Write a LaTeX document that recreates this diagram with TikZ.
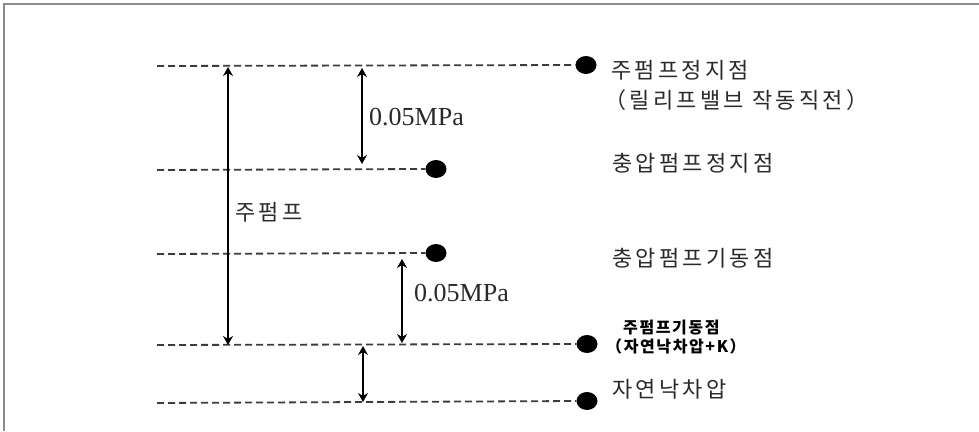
\documentclass[tikz,border=0pt]{standalone}
\usepackage{fontspec}
\setmainfont{Liberation Serif}
\newfontfamily\kr[LetterSpace=15]{Noto Sans CJK KR}
\newfontfamily\krs[LetterSpace=10]{Noto Sans CJK KR}
\usetikzlibrary{arrows.meta,shapes.geometric}
\definecolor{txt}{HTML}{2A2A2A}
\definecolor{dash}{HTML}{3C3C3C}
\definecolor{frame}{HTML}{8C8C8C}
\tikzset{
  lvl/.style={draw=dash, line width=1.8pt, dash pattern=on 7pt off 4pt},
  dotmark/.style={ellipse, fill=black, minimum width=21pt, minimum height=18pt, inner sep=0pt},
  dim/.style={draw=black, line width=1.4pt, {Stealth[length=9pt,width=10pt,inset=3pt]}-{Stealth[length=9pt,width=10pt,inset=3pt]}},
  lab/.style={anchor=west, inner sep=0pt, text=txt, font=\kr\fontsize{22}{26}\selectfont},
  smalllab/.style={anchor=west, inner sep=0pt, text=black, font=\krs\bfseries\fontsize{16}{18}\selectfont},
  mpa/.style={anchor=west, inner sep=0pt, text=txt, font=\fontsize{26}{30}\selectfont}
}
\begin{document}
\begin{tikzpicture}[x=1pt,y=-1pt]
\useasboundingbox (0,0) rectangle (979,431);
\fill[white] (0,0) rectangle (979,431);
\draw[frame, line width=2pt] (4,431) -- (4,4) -- (979,4);
% level lines
\coordinate (s1) at (157,66);
\coordinate (s2) at (157,170);
\coordinate (s3) at (157,254);
\coordinate (s4) at (157,345);
\coordinate (s5) at (157,403);
\node[dotmark] (d1) at (586,65) {};
\node[dotmark] (d2) at (436,169) {};
\node[dotmark] (d3) at (436,253) {};
\node[dotmark] (d4) at (587,344) {};
\node[dotmark] (d5) at (587,401) {};
\draw[lvl] (s1) -- (d1.west);
\draw[lvl] (s2) -- (d2.west);
\draw[lvl] (s3) -- (d3.west);
\draw[lvl] (s4) -- (d4.west);
\draw[lvl] (s5) -- (d5.west);
% dimension arrows
\coordinate (a1t) at (228,67);
\coordinate (a1b) at (228,345);
\coordinate (a2t) at (362,68);
\coordinate (a2b) at (362,164);
\coordinate (a3t) at (402,259);
\coordinate (a3b) at (402,343);
\coordinate (a4t) at (363,346);
\coordinate (a4b) at (363,402);
\draw[dim] (a1t) -- (a1b);
\draw[dim] (a2t) -- (a2b);
\draw[dim] (a3t) -- (a3b);
\draw[dim] (a4t) -- (a4b);
% labels
\node[mpa] (m1) at (369,117) {0.05MPa};
\node[mpa] (m2) at (414,293) {0.05MPa};
\node[lab] (mp) at (235,212) {주펌프};
\node[lab] (t1) at (611,70) {주펌프정지점};
\node[lab] (t1b) at (604,100) {（릴리프밸브 작동직전）};
\node[lab] (t2) at (612,163) {충압펌프정지점};
\node[lab] (t3) at (612,258) {충압펌프기동점};
\node[smalllab] (t4) at (623,328) {주펌프기동점};
\node[smalllab] (t4b) at (606,346) {（자연낙차압+K）};
\node[lab] (t5) at (612,389) {자연낙차압};
\end{tikzpicture}
\end{document}
